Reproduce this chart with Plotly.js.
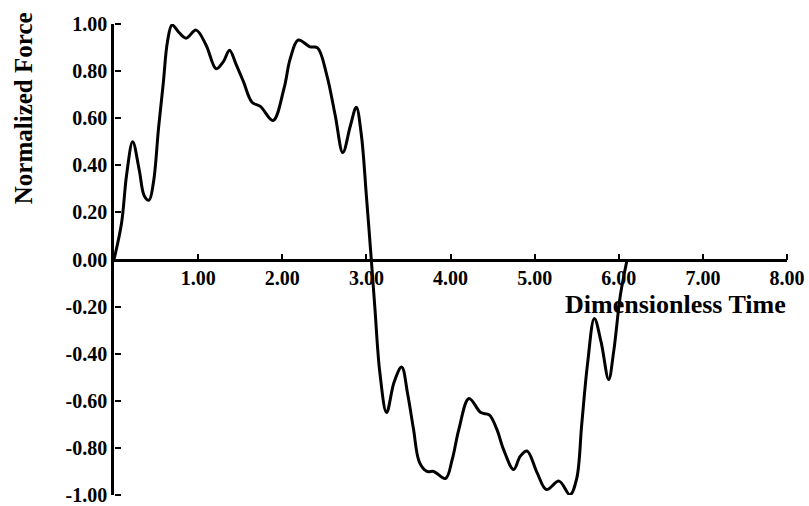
<!DOCTYPE html>
<html>
<head>
<meta charset="utf-8">
<script src="https://cdn.plot.ly/plotly-3.0.1.min.js"></script>
<style>html,body{margin:0;padding:0;background:#fff;}#chart{width:809px;height:506px;}</style>
</head>
<body>
<div id="chart"></div>
<script>
// Dimensionless time values
const time = [0.00, 0.09, 0.15, 0.222, 0.30, 0.36, 0.417, 0.47, 0.53, 0.587, 0.635, 0.69, 0.77, 0.857, 0.976, 1.095, 1.214, 1.30, 1.373, 1.45, 1.54, 1.64, 1.74, 1.89, 2.02, 2.095, 2.19, 2.33, 2.42, 2.53, 2.63, 2.72, 2.81, 2.88, 2.94, 3.00, 3.05, 3.10, 3.16, 3.24, 3.33, 3.42, 3.49, 3.56, 3.63, 3.72, 3.80, 3.94, 4.02, 4.10, 4.22, 4.36, 4.46, 4.55, 4.63, 4.75, 4.83, 4.91, 5.03, 5.14, 5.29, 5.42, 5.50, 5.56, 5.63, 5.71, 5.79, 5.88, 5.94, 6.02, 6.10];
// Normalized force values
const force = [0.00, 0.155, 0.36, 0.50, 0.38, 0.27, 0.252, 0.33, 0.56, 0.753, 0.924, 0.996, 0.965, 0.94, 0.974, 0.91, 0.81, 0.84, 0.889, 0.83, 0.754, 0.668, 0.65, 0.59, 0.725, 0.853, 0.932, 0.903, 0.899, 0.782, 0.611, 0.454, 0.568, 0.647, 0.53, 0.27, 0.04, -0.20, -0.48, -0.65, -0.52, -0.457, -0.57, -0.72, -0.86, -0.90, -0.90, -0.93, -0.85, -0.72, -0.59, -0.65, -0.66, -0.72, -0.806, -0.892, -0.835, -0.813, -0.906, -0.977, -0.941, -0.999, -0.93, -0.70, -0.44, -0.25, -0.35, -0.51, -0.39, -0.15, 0.00];

const xTickVals = [1, 2, 3, 4, 5, 6, 7, 8];
const xTickText = ["1.00", "2.00", "3.00", "4.00", "5.00", "6.00", "7.00", "8.00"];
const yTickVals = [-1, -0.8, -0.6, -0.4, -0.2, 0, 0.2, 0.4, 0.6, 0.8, 1];
const yTickText = ["-1.00", "-0.80", "-0.60", "-0.40", "-0.20", "0.00", "0.20", "0.40", "0.60", "0.80", "1.00"];
const xTitle = "Dimensionless Time";
const yTitle = "Normalized Force";

const xRange = [0, 8];
const yRange = [-1, 1];
const serif = "Liberation Serif, Times New Roman, serif";
const tickFont = {family: serif, size: 20, color: "#000", weight: "bold"};
const zeroPos = (0 - yRange[0]) / (yRange[1] - yRange[0]);

const trace = {
  x: time, y: force, type: "scatter", mode: "lines",
  line: {color: "#000", width: 3, shape: "spline", smoothing: 1},
  hoverinfo: "skip", showlegend: false
};

const layout = {
  width: 809, height: 506,
  margin: {l: 114, r: 22, t: 24, b: 11, pad: 0},
  paper_bgcolor: "#fff", plot_bgcolor: "#fff",
  showlegend: false,
  xaxis: {
    range: xRange, anchor: "free", position: zeroPos,
    tickmode: "array", tickvals: xTickVals, ticktext: xTickText,
    ticks: "", showline: true, linecolor: "#000", linewidth: 2.5,
    showgrid: false, zeroline: false,
    tickfont: tickFont, automargin: false
  },
  // tick-mark-only companion axis: outside ticks on a top-side axis point upward
  xaxis2: {
    range: xRange, anchor: "free", position: zeroPos, overlaying: "x", side: "top",
    tickmode: "array", tickvals: xTickVals, showticklabels: false,
    ticks: "outside", ticklen: 6, tickwidth: 2, tickcolor: "#000",
    showline: false, showgrid: false, zeroline: false, automargin: false
  },
  yaxis: {
    range: yRange,
    tickmode: "array", tickvals: yTickVals, ticktext: yTickText,
    ticks: "", showline: true, linecolor: "#000", linewidth: 2.5,
    showgrid: false, zeroline: false,
    tickfont: tickFont, automargin: false
  },
  // tick-mark-only companion axis: outside ticks on a right-side axis point right
  yaxis2: {
    range: yRange, anchor: "free", position: 0, overlaying: "y", side: "right",
    tickmode: "array", tickvals: yTickVals, showticklabels: false,
    ticks: "outside", ticklen: 6, tickwidth: 2, tickcolor: "#000",
    showline: false, showgrid: false, zeroline: false, automargin: false
  },
  annotations: [
    {text: xTitle, xref: "x", yref: "y", x: 6.67, y: -0.19,
     xanchor: "center", yanchor: "middle", showarrow: false,
     font: {family: serif, size: 26, color: "#000", weight: "bold"}},
    {text: yTitle, xref: "paper", yref: "y", x: -0.135, y: 0.643,
     xanchor: "center", yanchor: "middle", showarrow: false, textangle: -90,
     font: {family: serif, size: 25, color: "#000", weight: "bold"}}
  ]
};

// an empty trace so the companion axes are drawn
const axisTrace = {x: [], y: [], xaxis: "x2", yaxis: "y2", type: "scatter", mode: "lines",
  hoverinfo: "skip", showlegend: false};

Plotly.newPlot("chart", [trace, axisTrace], layout, {displayModeBar: false});
</script>
</body>
</html>
